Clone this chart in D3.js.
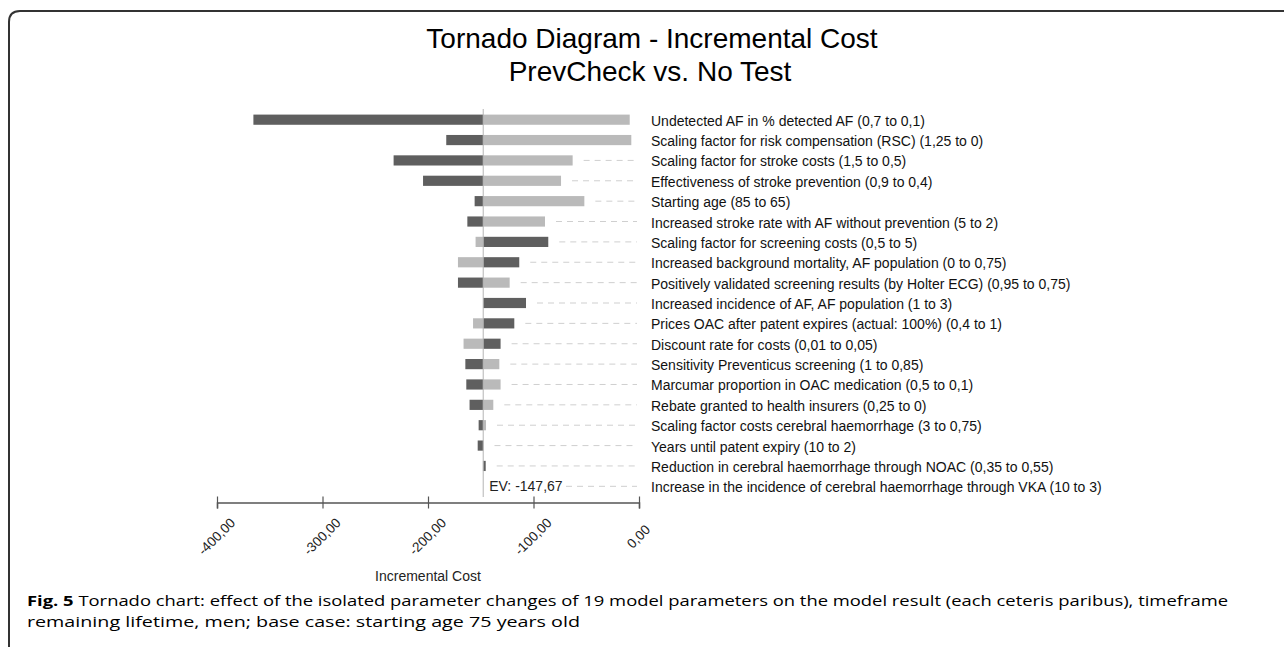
<!DOCTYPE html>
<html>
<head>
<meta charset="utf-8">
<script src="https://cdn.jsdelivr.net/npm/d3@7"></script>
<style>
  body { margin: 0; background: #fff; }
  svg { display: block; }
</style>
</head>
<body>
<svg id="chart" width="1284" height="649"></svg>
<script>
// parameters, top to bottom
const params = [
    "Undetected AF in % detected AF (0,7 to 0,1)",
    "Scaling factor for risk compensation (RSC) (1,25 to 0)",
    "Scaling factor for stroke costs (1,5 to 0,5)",
    "Effectiveness of stroke prevention (0,9 to 0,4)",
    "Starting age (85 to 65)",
    "Increased stroke rate with AF without prevention (5 to 2)",
    "Scaling factor for screening costs (0,5 to 5)",
    "Increased background mortality, AF population (0 to 0,75)",
    "Positively validated screening results (by Holter ECG) (0,95 to 0,75)",
    "Increased incidence of AF, AF population (1 to 3)",
    "Prices OAC after patent expires (actual: 100%) (0,4 to 1)",
    "Discount rate for costs (0,01 to 0,05)",
    "Sensitivity Preventicus screening (1 to 0,85)",
    "Marcumar proportion in OAC medication (0,5 to 0,1)",
    "Rebate granted to health insurers (0,25 to 0)",
    "Scaling factor costs cerebral haemorrhage (3 to 0,75)",
    "Years until patent expiry (10 to 2)",
    "Reduction in cerebral haemorrhage through NOAC (0,35 to 0,55)",
    "Increase in the incidence of cerebral haemorrhage through VKA (10 to 3)"
];
// incremental cost at the two ends of each parameter range
const darkValues = [-365.5, -182.7, -232.6, -204.7, -155.8, -162.7, -86.0, -113.5, -171.6, -107.1,
                    -118.2, -131.2, -164.6, -163.7, -160.6, -152.0, -152.9, -145.3, -147.67];
const lightValues = [-8.8, -7.3, -62.9, -73.9, -51.8, -89.1, -154.9, -171.6, -122.6, -147.67,
                     -157.3, -166.3, -132.4, -131.2, -138.1, -145.0, -147.4, -148.0, -147.67];
const ev = -147.67;
const xTicks = [-400, -300, -200, -100, 0];

const svg = d3.select("#chart");
const font = "'Liberation Sans', Arial, sans-serif";
const darkColor = "#5f5f5f", lightColor = "#bababa";

// frame
svg.append("path")
    .attr("d", "M9,647 V22 Q9,11 20,11 H1284")
    .attr("fill", "none")
    .attr("stroke", "#333")
    .attr("stroke-width", 2);

svg.append("text")
    .attr("x", 652).attr("y", 48)
    .attr("text-anchor", "middle")
    .attr("font-family", font).attr("font-size", 28)
    .text("Tornado Diagram - Incremental Cost");
svg.append("text")
    .attr("x", 650).attr("y", 81)
    .attr("text-anchor", "middle")
    .attr("font-family", font).attr("font-size", 28)
    .text("PrevCheck vs. No Test");

const x = d3.scaleLinear().domain([-400, 0]).range([217, 639]);
const y = d3.scaleBand().domain(params).range([109.5, 496.5])
    .paddingInner(0.5).paddingOuter(0.25);

const rows = params.map((p, i) => ({ p, dark: darkValues[i], light: lightValues[i] }));

// dashed guides from bar end to label
const labelX = 651;
svg.append("g").selectAll("line")
    .data(rows)
    .join("line")
    .attr("x1", (d, i) => i === rows.length - 1 ? 566 : x(Math.max(d.dark, d.light, ev)) + 11)
    .attr("x2", 637)
    .attr("y1", d => y(d.p) + y.bandwidth() / 2)
    .attr("y2", d => y(d.p) + y.bandwidth() / 2)
    .attr("stroke", "#cfcfcf")
    .attr("stroke-dasharray", "6,5")
    .attr("display", d => x(Math.max(d.dark, d.light)) + 11 > 630 ? "none" : null);

// bars
const bars = svg.append("g");
[["light", lightColor], ["dark", darkColor]].forEach(([key, color]) => {
    bars.append("g").selectAll("rect")
        .data(rows)
        .join("rect")
        .attr("x", d => x(Math.min(d[key], ev)))
        .attr("width", d => Math.abs(x(d[key]) - x(ev)))
        .attr("y", d => y(d.p))
        .attr("height", y.bandwidth())
        .attr("fill", color);
});

// base case line
svg.append("line")
    .attr("x1", x(ev)).attr("x2", x(ev))
    .attr("y1", 109).attr("y2", 497)
    .attr("stroke", "#b5b5b5")
    .attr("stroke-width", 1);

svg.append("text")
    .attr("x", x(ev) + 6)
    .attr("y", y(params[params.length - 1]) + y.bandwidth() / 2 + 5)
    .attr("font-family", font).attr("font-size", 14)
    .attr("fill", "#222")
    .text("EV: -147,67");

// parameter labels
svg.append("g").selectAll("text")
    .data(rows)
    .join("text")
    .attr("x", labelX)
    .attr("y", d => y(d.p) + y.bandwidth() / 2 + 6)
    .attr("font-family", font).attr("font-size", 14)
    .attr("fill", "#111")
    .text(d => d.p);

// axis
const loc = d3.formatLocale({ decimal: ",", thousands: ".", grouping: [3], currency: ["", ""], minus: "-" });
const axis = svg.append("g")
    .attr("transform", "translate(0,502.5)")
    .call(d3.axisBottom(x).tickValues(xTicks).tickFormat(loc.format(".2f")).tickSizeOuter(0).tickSize(6));
axis.select(".domain").attr("stroke", "#555").attr("stroke-width", 1.5);
axis.selectAll(".tick line").attr("y1", -6).attr("y2", 6).attr("stroke", "#555").attr("stroke-width", 1.2);
axis.selectAll(".tick text")
    .attr("font-family", font).attr("font-size", 13.5).attr("fill", "#222")
    .attr("text-anchor", "middle")
    .attr("x", 0).attr("y", 0).attr("dy", "0.35em")
    .attr("transform", "translate(-1,34) rotate(-45)");

svg.append("text")
    .attr("x", 428).attr("y", 581)
    .attr("text-anchor", "middle")
    .attr("font-family", font).attr("font-size", 14)
    .attr("fill", "#222")
    .text("Incremental Cost");

// figure caption
const capFont = "'Open Sans', 'Noto Sans', sans-serif";
const cap1 = svg.append("text")
    .attr("x", 27).attr("y", 606)
    .attr("font-family", capFont).attr("font-size", 15)
    .attr("textLength", 1201).attr("lengthAdjust", "spacingAndGlyphs");
cap1.append("tspan").attr("font-weight", "bold").text("Fig. 5");
cap1.append("tspan").text(" Tornado chart: effect of the isolated parameter changes of 19 model parameters on the model result (each ceteris paribus), timeframe");
svg.append("text")
    .attr("x", 27).attr("y", 627)
    .attr("font-family", capFont).attr("font-size", 15)
    .attr("textLength", 553).attr("lengthAdjust", "spacingAndGlyphs")
    .text("remaining lifetime, men; base case: starting age 75 years old");
</script>
</body>
</html>
